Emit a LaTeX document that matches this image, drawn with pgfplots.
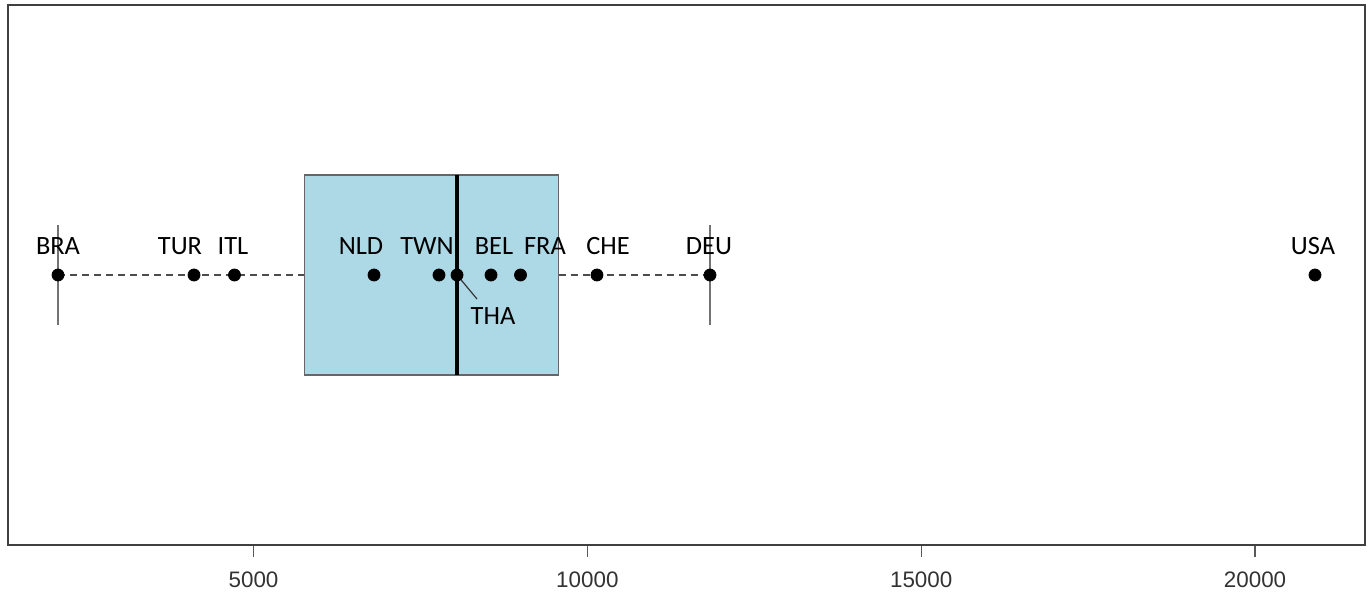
\documentclass[border=0pt]{standalone}
\usepackage{fontspec}
\setmainfont{Carlito}
\newfontfamily\arialfont{Liberation Sans}
\usepackage{pgfplots}
\pgfplotsset{compat=1.18}
\usepackage{pgfplotstable}
\definecolor{boxfill}{HTML}{ADD8E6}
\definecolor{tickgray}{HTML}{333333}

\pgfplotstableread{
x y
2072 1
4109 1
4715 1
6805 1
7778 1
8048 1
8557 1
8999 1
10144 1
11837 1
20898 1
}\points

\pgfplotstableread{
x y label
2072 1.058 BRA
3899 1.058 TUR
4693 1.058 ITL
6610 1.058 NLD
7599 1.058 TWN
8601 1.058 BEL
9365 1.058 FRA
10309 1.058 CHE
11822 1.058 DEU
20868 1.058 USA
8587 0.918 THA
}\labels

\begin{document}
\begin{tikzpicture}
\path[use as bounding box] (0,0) rectangle (685pt,302.5pt);
\begin{axis}[
  at={(4pt,30pt)}, anchor=south west,
  scale only axis, width=678.5pt, height=270pt,
  xmin=1323, xmax=21647, ymin=0.46, ymax=1.54,
  xtick={5000,10000,15000,20000},
  scaled x ticks=false,
  ytick=\empty,
  tick pos=bottom,
  tick align=outside,
  major tick length=6pt,
  axis line style={draw=black!75, line width=0.7pt},
  every tick/.style={draw=black!65, line width=0.6pt},
  /pgf/number format/assume math mode=true,
  /pgf/number format/1000 sep={},
  xticklabel style={font=\arialfont\fontsize{11.2}{13}\selectfont, text=tickgray, yshift=-4pt},
  clip=false,
]
% whiskers
\addplot[draw=black!70, dash pattern=on 3.5pt off 2.5pt, line width=0.6pt] coordinates {(2072,1) (5760,1)};
\addplot[draw=black!70, dash pattern=on 3.5pt off 2.5pt, line width=0.6pt] coordinates {(9571,1) (11837,1)};
% staples
\addplot[draw=black!55, line width=0.6pt] coordinates {(2072,0.9) (2072,1.1)};
\addplot[draw=black!55, line width=0.6pt] coordinates {(11837,0.9) (11837,1.1)};
% box
\addplot[fill=boxfill, draw=black!60, line width=0.6pt] coordinates {(5760,0.8) (9571,0.8) (9571,1.2) (5760,1.2) (5760,0.8)} -- cycle;
% median
\addplot[draw=black, line width=2pt] coordinates {(8048,0.8) (8048,1.2)};
% leader line THA
\addplot[draw=black!80, line width=0.6pt] coordinates {(8048,1) (8347,0.952)};
% points
\addplot[only marks, mark=*, mark size=3pt, mark options={fill=black, draw=black}] table[x=x,y=y] {\points};
% labels
\addplot[only marks, mark=none, point meta=explicit symbolic,
  nodes near coords,
  every node near coord/.style={anchor=center, inner sep=0pt, font=\fontsize{13.2}{15}\selectfont, text=black}]
  table[x=x,y=y,meta=label] {\labels};
\end{axis}
\end{tikzpicture}
\end{document}
